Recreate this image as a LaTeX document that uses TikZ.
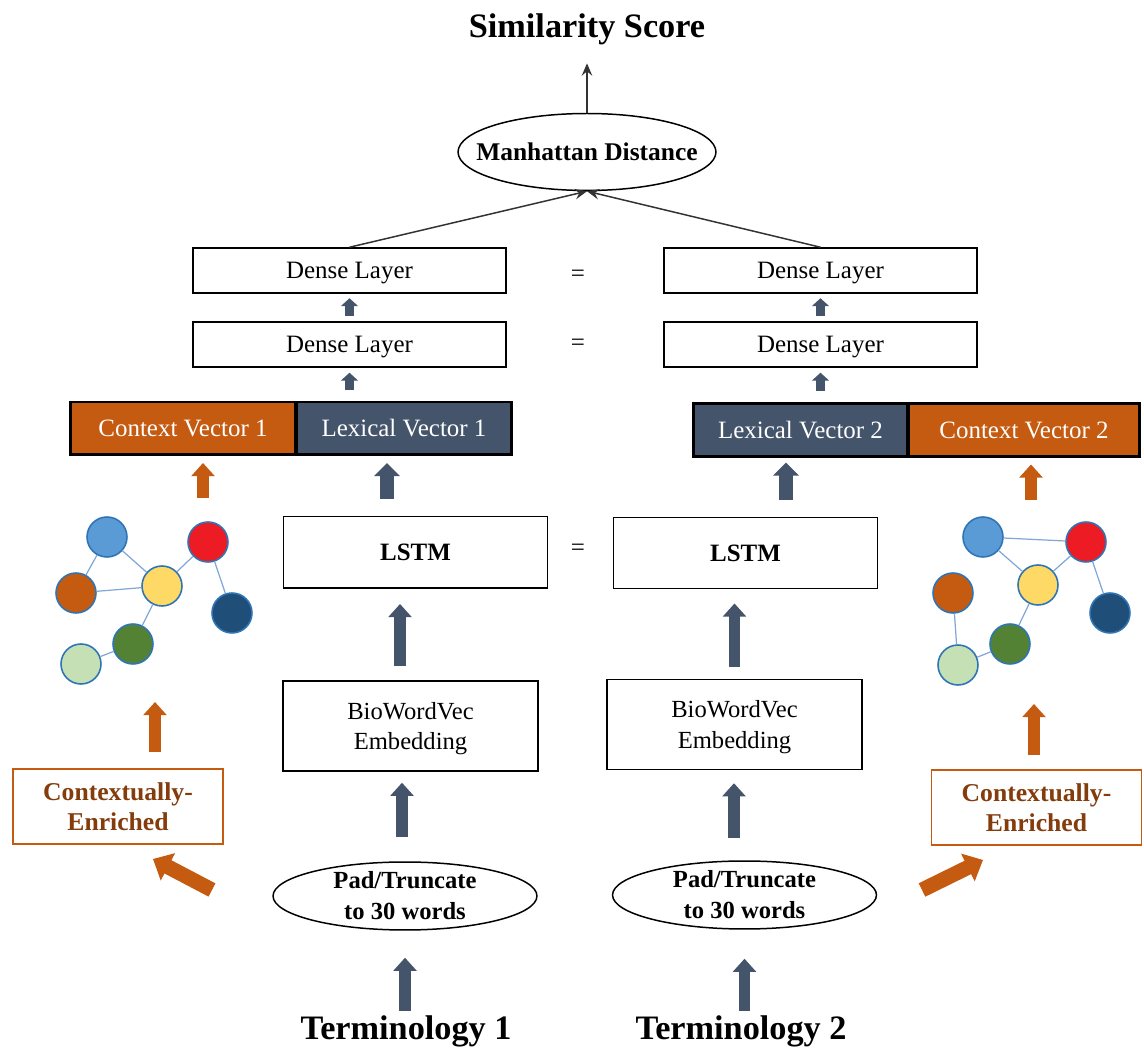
\documentclass[tikz,border=0pt]{standalone}
\usepackage{fontspec}
\setmainfont{Liberation Serif}
\usetikzlibrary{arrows.meta, positioning, shapes.geometric}
\definecolor{ctxorange}{HTML}{C55A11}
\definecolor{ctxedge}{HTML}{ED7D31}
\definecolor{lexslate}{HTML}{44546A}
\definecolor{enrichtxt}{HTML}{843C0C}
\definecolor{glightblue}{HTML}{5B9BD5}
\definecolor{gred}{HTML}{ED1C24}
\definecolor{gyellow}{HTML}{FFD966}
\definecolor{gnavy}{HTML}{1F4E79}
\definecolor{ggreen}{HTML}{548235}
\definecolor{gpale}{HTML}{C5E0B4}
\definecolor{gborder}{HTML}{2E75B6}
\definecolor{gline}{HTML}{7FA7D9}
\newcommand{\basefont}{\fontsize{14.2}{17.5}\selectfont}
\newcommand{\bigbold}{\fontsize{19.5}{23}\selectfont\bfseries}

\begin{document}
\begin{tikzpicture}[
        x=0.02cm, y=-0.02cm,
        font=\basefont,
        dense/.style={draw, line width=0.85pt, minimum width=6.26cm, minimum height=0.9cm, inner sep=0pt, text depth=0pt},
        lstmbox/.style={draw, line width=0.85pt, minimum width=5.28cm, minimum height=1.43cm, font=\basefont\bfseries},
        embbox/.style={draw, line width=0.85pt, minimum width=5.1cm, minimum height=1.8cm, align=center, text depth=0pt, font=\fontsize{14}{17.6}\selectfont},
        padell/.style={ellipse, draw, line width=0.85pt, minimum width=5.28cm, minimum height=1.36cm, inner xsep=0pt, inner ysep=-0.5cm, align=center, font=\fontsize{14}{17.6}\selectfont\bfseries},
        manhell/.style={ellipse, draw, line width=0.85pt, minimum width=5.16cm, minimum height=1.54cm, inner xsep=-1cm, inner ysep=0pt, font=\fontsize{14.5}{17}\selectfont\bfseries},
        vecbox/.style={draw=black, line width=1.7pt, text=white, minimum height=1.06cm, inner sep=0pt},
        ctxvec/.style={vecbox, fill=ctxorange},
        lexvec/.style={vecbox, fill=lexslate},
        enrich/.style={draw=ctxorange, line width=0.85pt, text=enrichtxt, align=center, minimum width=4.2cm, minimum height=1.5cm, font=\fontsize{14.6}{17}\selectfont\bfseries},
        termlab/.style={inner sep=0pt, font=\bigbold},
        eqsign/.style={inner sep=0pt},
        gnode/.style={circle, draw=gborder, line width=0.9pt, minimum size=0.8cm, inner sep=0pt},
        gedge/.style={draw=gline, line width=0.7pt},
        thinarrow/.style={line width=0.85pt, draw=black!80, -{Stealth[length=7pt, width=6pt, inset=2.5pt]}},
        smallarrow/.style={line width=5pt, draw=lexslate, -{Triangle[width=9.6pt, length=4.5pt]}},
        fatarrow/.style={line width=6.8pt, draw=lexslate, -{Triangle[width=13pt, length=7.5pt]}},
        lexarrow/.style={line width=7.9pt, draw=lexslate, -{Triangle[width=14.5pt, length=7.5pt]}},
        oarrow/.style={line width=6.8pt, draw=ctxorange, -{Triangle[width=13pt, length=7.5pt]}},
        diagarrow/.style={line width=8.5pt, draw=ctxorange, -{Triangle[width=17pt, length=9.6pt]}}
    ]
        \useasboundingbox (0,0) rectangle (1144,1053);

        \node[inner sep=0pt, font=\bigbold] (score) at (587,29) {Similarity Score};
        \node[manhell] (manh) at (587,152) {Manhattan Distance};

        \node[dense] (dl2a) at (349.5,270.5) {Dense Layer};
        \node[dense] (dl2b) at (820.5,270.5) {Dense Layer};
        \node[dense] (dl1a) at (349.5,344.5) {Dense Layer};
        \node[dense] (dl1b) at (820.5,344.5) {Dense Layer};
        \node[eqsign] (eq2) at (578,276) {=};
        \node[eqsign] (eq1) at (578,344.5) {=};

        \node[ctxvec, minimum width=4.52cm] (ctx1) at (183,428.5) {Context Vector 1};
        \node[lexvec, minimum width=4.32cm] (lex1) at (404,428.5) {Lexical Vector 1};
        \node[lexvec, minimum width=4.3cm] (lex2) at (800.5,430) {Lexical Vector 2};
        \node[ctxvec, minimum width=4.64cm] (ctx2) at (1024,430) {Context Vector 2};

        \node[lstmbox] (lstm1) at (415.5,552.5) {LSTM};
        \node[lstmbox] (lstm2) at (745.5,553) {LSTM};
        \node[eqsign] (eq0) at (578,550) {=};

        \node[embbox] (bio1) at (410.5,726) {BioWordVec\\Embedding};
        \node[embbox] (bio2) at (734.5,724.5) {BioWordVec\\Embedding};
        \node[padell] (pad1) at (405,896) {Pad/Truncate\\to 30 words};
        \node[padell] (pad2) at (744.5,895) {Pad/Truncate\\to 30 words};
        \node[termlab, anchor=base] (term1) at (406,1040) {Terminology 1};
        \node[termlab, anchor=base] (term2) at (741,1040) {Terminology 2};

        \node[enrich] (ce1) at (118,806.5) {Contextually-\\Enriched};
        \node[enrich] (ce2) at (1036.5,807.5) {Contextually-\\Enriched};

        \node[gnode, fill=glightblue] (a1) at (107,537) {};
        \node[gnode, fill=gred] (b1) at (208,542) {};
        \node[gnode, fill=ctxorange] (c1) at (76,593) {};
        \node[gnode, fill=gyellow] (d1) at (162,586) {};
        \node[gnode, fill=gnavy] (e1) at (232,613) {};
        \node[gnode, fill=ggreen] (f1) at (133,644) {};
        \node[gnode, fill=gpale] (h1) at (81,664) {};
        \draw[gedge] (a1) -- (c1) (a1) -- (d1) (c1) -- (d1) (d1) -- (b1) (b1) -- (e1) (d1) -- (f1) (f1) -- (h1);

        \node[gnode, fill=glightblue] (a2) at (983,537) {};
        \node[gnode, fill=gred] (b2) at (1086,542) {};
        \node[gnode, fill=ctxorange] (c2) at (953,593) {};
        \node[gnode, fill=gyellow] (d2) at (1038,585) {};
        \node[gnode, fill=gnavy] (e2) at (1110,613) {};
        \node[gnode, fill=ggreen] (f2) at (1010,644) {};
        \node[gnode, fill=gpale] (h2) at (958,665) {};
        \draw[gedge] (a2) -- (b2) (a2) -- (d2) (d2) -- (b2) (b2) -- (e2) (d2) -- (f2) (f2) -- (h2) (c2) -- (h2);

        \coordinate (g1in) at (155,702);
        \coordinate (g1out) at (203,498);
        \coordinate (g2in) at (1034,704);
        \coordinate (g2out) at (1031,500);
        \coordinate (p1tail) at (212,890);
        \coordinate (p1tip) at (153,859);
        \coordinate (p2tail) at (922,890);
        \coordinate (p2tip) at (983,860);

        \draw[thinarrow, shorten >=0.37cm] (manh.north) -- (score.south);
        \draw[thinarrow] (dl2a.north) -- (manh.south);
        \draw[thinarrow] (dl2b.north) -- (manh.south);

        \draw[smallarrow, shorten <=0.1cm, shorten >=0.09cm] (dl1a.north) -- (dl2a.south);
        \draw[smallarrow, shorten <=0.1cm, shorten >=0.09cm] (dl1b.north) -- (dl2b.south);
        \draw[smallarrow, shorten <=0.21cm, shorten >=0.1cm] (dl1a.south |- lex1.north) -- (dl1a.south);
        \draw[smallarrow, shorten <=0.23cm, shorten >=0.1cm] (dl1b.south |- lex2.north) -- (dl1b.south);

        \draw[fatarrow, shorten <=0.1cm, shorten >=0.54cm] (pad1.south |- term1.north) -- (pad1.south);
        \draw[fatarrow, shorten <=0.48cm, shorten >=0.22cm] ([xshift=-0.06cm]pad1.north) -- ([xshift=-0.06cm]pad1.north |- bio1.south);
        \draw[fatarrow, shorten <=0.28cm, shorten >=0.3cm] ([xshift=-0.21cm]bio1.north) -- ([xshift=-0.21cm]bio1.north |- lstm1.south);
        \draw[lexarrow, shorten <=0.34cm, shorten >=0.13cm] ([xshift=-0.57cm]lstm1.north) -- ([xshift=-0.57cm]lstm1.north |- lex1.south);

        \draw[fatarrow, shorten <=0.1cm, shorten >=0.58cm] (pad2.south |- term2.north) -- (pad2.south);
        \draw[fatarrow, shorten <=0.44cm, shorten >=0.26cm] ([xshift=-0.21cm]pad2.north) -- ([xshift=-0.21cm]pad2.north |- bio2.south);
        \draw[fatarrow, shorten <=0.24cm, shorten >=0.28cm] (bio2.north) -- (bio2.north |- lstm2.south);
        \draw[lexarrow, shorten <=0.34cm, shorten >=0.09cm] ([xshift=0.81cm]lstm2.north) -- ([xshift=0.81cm]lstm2.north |- lex2.south);

        \draw[oarrow, shorten <=0.32cm] (g1in |- ce1.north) -- (g1in);
        \draw[oarrow, shorten >=0.13cm] (g1out) -- (g1out |- ctx1.south);
        \draw[oarrow, shorten <=0.28cm] (g2in |- ce2.north) -- (g2in);
        \draw[oarrow, shorten >=0.13cm] (g2out) -- (g2out |- ctx2.south);
        \draw[diagarrow] (p1tail) -- (p1tip);
        \draw[diagarrow] (p2tail) -- (p2tip);
    \end{tikzpicture}
\end{document}
